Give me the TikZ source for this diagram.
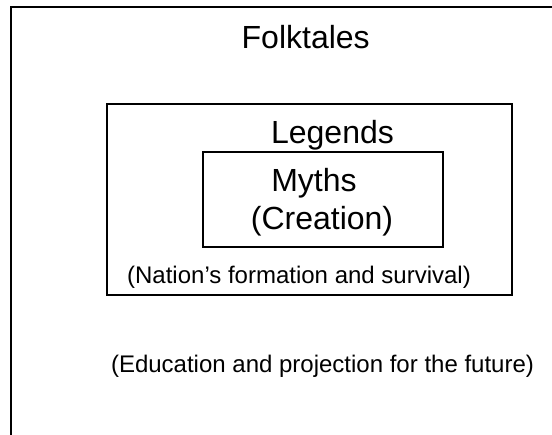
\documentclass[tikz,border=0pt]{standalone}
\usepackage{fontspec}
\setmainfont{Liberation Sans}
\begin{document}
\begin{tikzpicture}[x=1pt,y=-1pt,
  frame/.style={draw=black,line width=2pt},
  box/.style={draw=black,line width=2pt,inner sep=0pt,fill=none},
  title/.style={anchor=base,inner sep=0pt,font=\fontsize{32}{38}\selectfont},
  note/.style={anchor=base,inner sep=0pt,font=\fontsize{24}{29}\selectfont}]
  \useasboundingbox (0,0) rectangle (552,435);
  \clip (0,0) rectangle (552,435);
  \fill[white] (0,0) rectangle (552,435);
  % outer frame, running past the right and bottom edges
  \coordinate (framebl) at (11,445);
  \coordinate (frametr) at (565,7.5);
  \draw[frame] (framebl) |- (frametr);
  % nested boxes
  \node[box,minimum width=404.5pt,minimum height=191pt] (legendsbox) at (309.25,199.5) {};
  \node[box,minimum width=240pt,minimum height=95pt] (mythsbox) at (323,199.5) {};
  % labels
  \node[title] (folktales) at (305.7,48.3) {Folktales};
  \node[title] (legends) at (332.5,144) {Legends};
  \node[title] (myths) at (314,192) {Myths};
  \node[title] (creation) at (322,229.3) {(Creation)};
  \node[note] (nation) at (299,283.3) {(Nation’s formation and survival)};
  \node[note] (education) at (322.5,372.5) {(Education and projection for the future)};
\end{tikzpicture}
\end{document}
